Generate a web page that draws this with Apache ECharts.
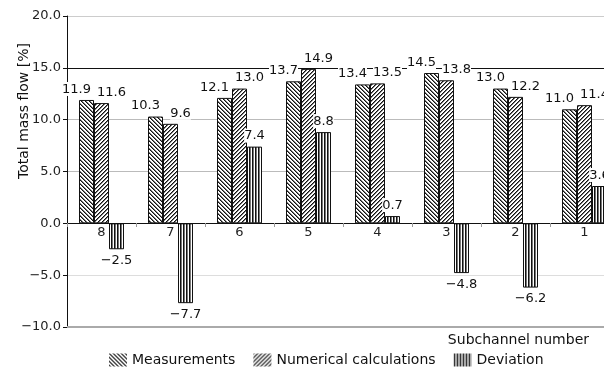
<!DOCTYPE html>
<html>
<head>
<meta charset="utf-8">
<script src="https://cdn.jsdelivr.net/npm/echarts@6/dist/echarts.min.js"></script>
<style>html,body{margin:0;padding:0;background:#fff;overflow:hidden;width:604px;height:370px}#c{width:619px;height:370px}</style>
</head>
<body>
<div id="c"></div>
<script>
const categories = ['8','7','6','5','4','3','2','1'];
const measurements = [11.9, 10.3, 12.1, 13.7, 13.4, 14.5, 13.0, 11.0];
const numerical = [11.6, 9.6, 13.0, 14.9, 13.5, 13.8, 12.2, 11.4];
const deviation = [-2.5, -7.7, 7.4, 8.8, 0.7, -4.8, -6.2, 3.6];
const seriesNames = ['Measurements', 'Numerical calculations', 'Deviation'];
const yMin = -10, yMax = 20, yStep = 5;
const yTitle = 'Total mass flow [%]';
const xTitle = 'Subchannel number';

const FONT = 'DejaVu Sans';
const GRID_TOP = 16, GRID_BOTTOM = 43, H = 370;
const plotH = H - GRID_TOP - GRID_BOTTOM;
const zeroOffset = Math.round((0 - yMin) / (yMax - yMin) * plotH);

function fmt(v){ return (v < 0 ? '\u2212' : '') + Math.abs(v).toFixed(1); }

function makeTile(kind){
  const c = document.createElement('canvas');
  const ctx = c.getContext('2d');
  if (kind === 'vert') {
    c.width = 3; c.height = 3;
    ctx.fillStyle = '#fff'; ctx.fillRect(0,0,3,3);
    ctx.fillStyle = '#111'; ctx.fillRect(0,0,1,3);
    ctx.fillStyle = '#777'; ctx.fillRect(1,0,1,3);
  } else {
    c.width = 4; c.height = 4;
    ctx.fillStyle = '#fff'; ctx.fillRect(0,0,4,4);
    for (let i = 0; i < 4; i++) {
      const x = kind === 'back' ? i : 3 - i;
      ctx.fillStyle = '#111'; ctx.fillRect(x, i, 1, 1);
      ctx.fillStyle = '#777'; ctx.fillRect((x + 1) % 4, i, 1, 1);
    }
  }
  return { image: c, repeat: 'repeat' };
}

const labelBase = {
  show: true, fontFamily: FONT, fontSize: 13, color: '#111',
  backgroundColor: '#fff', padding: [1, 0, 0, 0], distance: 4,
  formatter: p => fmt(p.value)
};

const devData = deviation.map(v => ({
  value: v,
  label: { position: v < 0 ? 'bottom' : 'top' }
}));

const chart = echarts.init(document.getElementById('c'), null, {renderer: 'canvas'});
chart.setOption({
  animation: false,
  backgroundColor: '#fff',
  grid: { left: 67, right: 0, top: GRID_TOP, bottom: GRID_BOTTOM },
  legend: {
    data: seriesNames, left: 104, top: 348,
    itemWidth: 18, itemHeight: 13, itemGap: 18,
    icon: 'rect',
    itemStyle: { borderWidth: 0 },
    textStyle: { fontFamily: FONT, fontSize: 14, color: '#111' }
  },
  xAxis: {
    type: 'category', data: categories, position: 'bottom', offset: -zeroOffset,
    axisLine: { onZero: false, lineStyle: { color: '#111', width: 1 } },
    axisTick: { show: true, interval: 0, length: 4, lineStyle: { color: '#999' } },
    axisLabel: { fontFamily: FONT, fontSize: 13, color: '#222', margin: 3 },
    splitLine: { show: false }, z: 3
  },
  yAxis: {
    type: 'value', min: yMin, max: yMax, interval: yStep,
    axisLine: { show: true, lineStyle: { color: '#111', width: 1 } },
    axisTick: { show: true, length: 4, lineStyle: { color: '#111' } },
    axisLabel: { fontFamily: FONT, fontSize: 13, color: '#222', margin: 6, formatter: v => fmt(v) },
    splitLine: { show: true, lineStyle: { width: 1, color: ['#aaa', '#ddd', '#111', '#bbb', '#bbb', '#111', '#ccc'] } }
  },
  graphic: [
    { type: 'text', x: 24, y: 111, rotation: Math.PI / 2,
      style: { text: yTitle, font: '14px "DejaVu Sans"', fill: '#111', textAlign: 'center', textVerticalAlign: 'middle' } },
    { type: 'text', x: 589, y: 340,
      style: { text: xTitle, font: '14px "DejaVu Sans"', fill: '#111', textAlign: 'right', textVerticalAlign: 'middle' } }
  ],
  series: [{
    name: seriesNames[0], type: 'bar', data: measurements, barWidth: 15, barGap: '0%',
    itemStyle: { color: makeTile('back'), borderColor: '#111', borderWidth: 1 },
    label: Object.assign({}, labelBase, { position: 'top', offset: [-10, 0] }),
    markLine: {
      silent: true, symbol: 'none', label: { show: false },
      lineStyle: { color: '#aaa', width: 2, type: 'solid' },
      data: [{ yAxis: yMin }]
    }
  }, {
    name: seriesNames[1], type: 'bar', data: numerical, barWidth: 15, barGap: '0%',
    itemStyle: { color: makeTile('fwd'), borderColor: '#111', borderWidth: 1 },
    label: Object.assign({}, labelBase, { position: 'top', offset: [10, 0] })
  }, {
    name: seriesNames[2], type: 'bar', data: devData, barWidth: 15, barGap: '0%',
    itemStyle: { color: makeTile('vert'), borderColor: '#111', borderWidth: 1 },
    label: Object.assign({}, labelBase, { position: 'top', offset: [0, 0] })
  }]
});
</script>
</body>
</html>
